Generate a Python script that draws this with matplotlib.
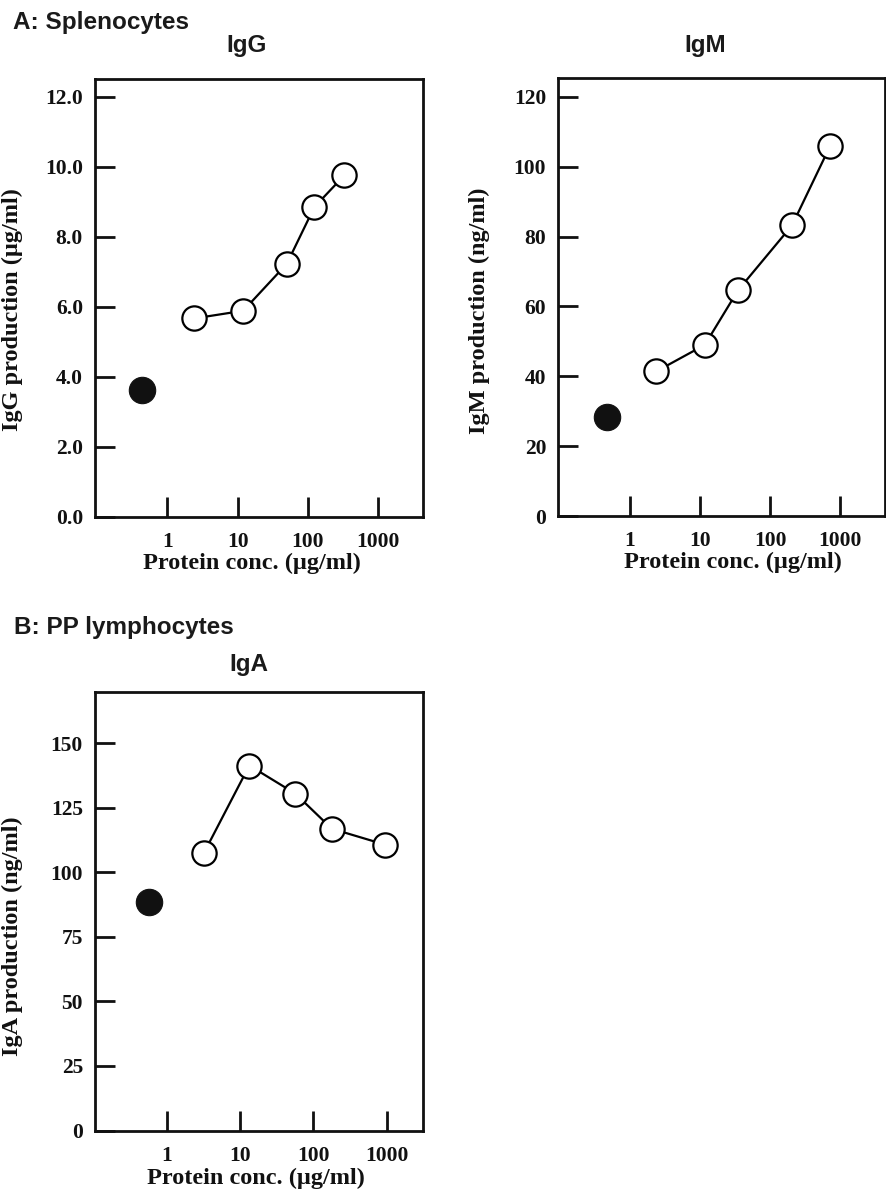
import numpy as np
import matplotlib
matplotlib.use("Agg")
import matplotlib.pyplot as plt

SERIF = ["Liberation Serif", "DejaVu Serif"]
SANS = ["Liberation Sans", "DejaVu Sans"]

W, H = 887, 1191

# control (no protein) points and dose-response series
igg_ctrl_x, igg_ctrl_y = 0.43, 3.63
igg_conc = [2.4, 12, 50, 123, 330]
igg_val = [5.67, 5.89, 7.23, 8.85, 9.76]

igm_ctrl_x, igm_ctrl_y = 0.48, 28.2
igm_conc = [2.4, 11.8, 35, 206, 713]
igm_val = [41.4, 49.0, 64.6, 83.2, 105.8]

iga_ctrl_x, iga_ctrl_y = 0.57, 88.6
iga_conc = [3.2, 13.3, 56.6, 178, 960]
iga_val = [107.6, 141.4, 130.5, 116.9, 110.7]

x_ticks = [1, 10, 100, 1000]
x_ticklabels = ["1", "10", "100", "1000"]
igg_yticks = [0, 2, 4, 6, 8, 10, 12]
igg_yticklabels = ["0.0", "2.0", "4.0", "6.0", "8.0", "10.0", "12.0"]
igm_yticks = [0, 20, 40, 60, 80, 100, 120]
iga_yticks = [0, 25, 50, 75, 100, 125, 150]


def px_box(l, t, r, b):
    return [l / W, 1 - b / H, (r - l) / W, (b - t) / H]


def panel(fig, box, xlim, ylim, ctrl_x, ctrl_y, conc, val, yticks, yticklabels,
          ylabel, ylab_xy, xlab_xy):
    ax = fig.add_axes(px_box(*box))
    ax.set_xscale("log")
    ax.plot(conc, val, color="black", lw=1.6, zorder=2)
    ax.plot(conc, val, "o", ms=17.5, mfc="white", mec="black", mew=1.6, zorder=3)
    ax.plot([ctrl_x], [ctrl_y], "o", ms=19, mfc="#111111", mec="#111111", mew=0.8, zorder=3)
    ax.set_xlim(*xlim)
    ax.set_ylim(*ylim)
    ax.set_xticks(x_ticks)
    ax.set_xticklabels(x_ticklabels)
    ax.xaxis.set_minor_locator(matplotlib.ticker.NullLocator())
    ax.set_yticks(yticks)
    ax.set_yticklabels(yticklabels)
    ax.tick_params(direction="in", length=14.5, width=2, color="#111111")
    ax.tick_params(axis="y", pad=8.5)
    ax.tick_params(axis="x", pad=11)
    for lab in ax.get_xticklabels() + ax.get_yticklabels():
        lab.set_fontfamily(SERIF)
        lab.set_fontweight("bold")
        lab.set_fontsize(15.5)
        lab.set_color("#111111")
    for sp in ax.spines.values():
        sp.set_linewidth(2)
        sp.set_color("#111111")
    ax.set_ylabel(ylabel, family=SERIF, weight="bold", fontsize=17.5, color="#111111")
    ax.yaxis.set_label_coords(*ylab_xy)
    ax.set_xlabel("Protein conc. (µg/ml)", family=SERIF, weight="bold", fontsize=17.5,
                  color="#111111")
    ax.xaxis.set_label_coords(*xlab_xy)
    return ax


fig = plt.figure(figsize=(W / 100, H / 100), dpi=100)

panel(fig, (94.7, 79.3, 423.3, 517), (10 ** -1.033, 10 ** 3.64), (0, 12.5),
      igg_ctrl_x, igg_ctrl_y, igg_conc, igg_val, igg_yticks, igg_yticklabels,
      "IgG production (µg/ml)", (-0.218, 0.473), (0.477, -0.082))

panel(fig, (558, 78.3, 885.5, 516), (10 ** -1.02, 10 ** 3.645), (0, 125.3),
      igm_ctrl_x, igm_ctrl_y, igm_conc, igm_val, igm_yticks, [str(v) for v in igm_yticks],
      "IgM production (ng/ml)", (-0.208, 0.470), (0.533, -0.082))

panel(fig, (94.7, 691.7, 423.3, 1130.5), (10 ** -0.988, 10 ** 3.5), (0, 170),
      iga_ctrl_x, iga_ctrl_y, iga_conc, iga_val, iga_yticks, [str(v) for v in iga_yticks],
      "IgA production (ng/ml)", (-0.218, 0.443), (0.492, -0.084))

# group headings and antibody titles
def ftext(x, y, s, ha="center"):
    fig.text(x / W, 1 - y / H, s, ha=ha, va="baseline", family=SANS, weight="bold",
             fontsize=17.5, color="#1a1a1a")

ftext(13, 28.5, "A: Splenocytes", ha="left")
ftext(247, 51.7, "IgG")
ftext(705, 51.7, "IgM")
ftext(14, 634, "B: PP lymphocytes", ha="left")
ftext(248.5, 670.7, "IgA")

fig.savefig("out.png", dpi=100, facecolor="white")
